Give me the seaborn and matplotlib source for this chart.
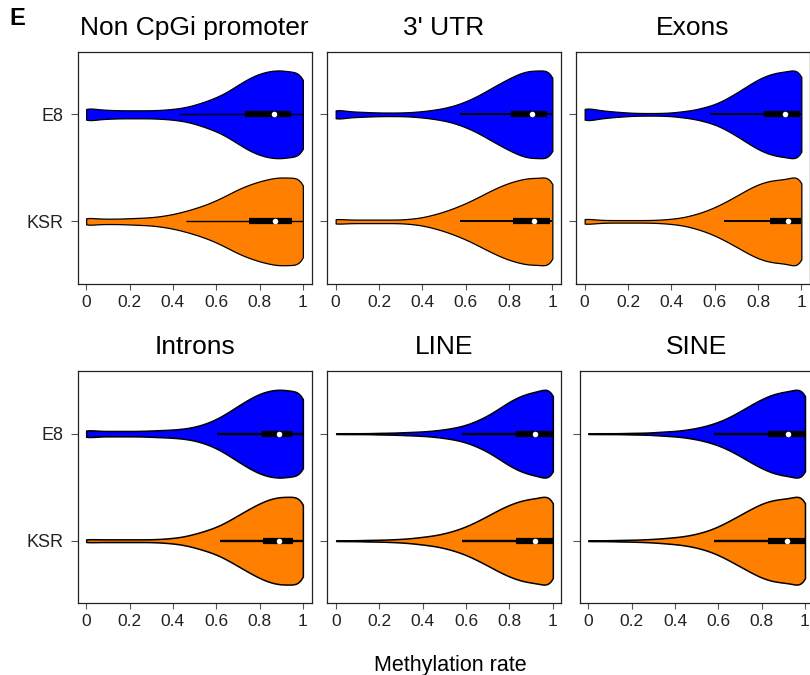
import numpy as np
import pandas as pd
import matplotlib
matplotlib.use("Agg")
from matplotlib import pyplot as plt
import seaborn as sns

regions = ["Non CpGi promoter", "3' UTR", "Exons", "Introns", "LINE", "SINE"]
groups = ["E8", "KSR"]
group_colors = ["#0000FF", "#FF7F00"]

# methylation rate bins and the relative counts
rate_bins = [0.00, 0.05, 0.10, 0.15, 0.20, 0.25, 0.30, 0.35, 0.40, 0.45, 0.50,
             0.55, 0.60, 0.65, 0.70, 0.75, 0.80, 0.85, 0.90, 0.95, 1.00]

noncpgi_e8 = [17, 11, 10, 9, 9, 9, 9, 10, 12, 15, 21, 29, 38, 50, 66, 81, 92, 98, 100, 94, 100]
noncpgi_ksr = [10, 6, 6, 6, 7, 8, 9, 12, 16, 22, 29, 37, 47, 59, 72, 82, 90, 96, 100, 96, 105]
utr_e8 = [13, 7, 6, 5, 4, 4, 4, 5, 7, 10, 14, 20, 29, 40, 54, 68, 81, 93, 100, 97, 108]
utr_ksr = [7, 4, 4, 4, 4, 4, 4, 6, 9, 15, 22, 31, 41, 53, 66, 78, 88, 95, 100, 97, 112]
exons_e8 = [18, 11, 8, 6, 4, 3, 3, 3, 4, 7, 10, 16, 23, 35, 50, 66, 82, 93, 99, 100, 115]
exons_ksr = [8, 4, 3, 3, 3, 3, 3, 4, 6, 9, 15, 23, 33, 46, 60, 75, 88, 96, 99, 100, 120]
introns_e8 = [10, 6, 6, 6, 6, 6, 7, 8, 9, 11, 15, 22, 32, 46, 62, 77, 90, 97, 100, 94, 100]
introns_ksr = [4, 3, 3, 3, 3, 3, 3, 4, 6, 9, 15, 22, 30, 42, 56, 70, 83, 93, 98, 96, 103]
line_e8 = [1, 1, 1, 1, 2, 2, 3, 4, 5, 7, 10, 14, 20, 30, 42, 58, 75, 88, 96, 100, 116]
line_ksr = [1, 1, 1, 2, 2, 3, 4, 6, 9, 12, 17, 24, 33, 45, 58, 72, 84, 93, 98, 100, 115]
sine_e8 = [1, 1, 1, 1, 2, 2, 3, 5, 6, 9, 13, 19, 27, 38, 52, 67, 81, 92, 98, 100, 116]
sine_ksr = [1, 1, 1, 2, 2, 3, 4, 6, 8, 11, 16, 23, 33, 46, 60, 74, 87, 95, 98, 100, 116]

# inner boxplot per region: whisker low, Q1, median, Q3, whisker high
e8_low = [0.43, 0.573, 0.58, 0.604, 0.579, 0.579]
e8_q1 = [0.735, 0.808, 0.826, 0.81, 0.828, 0.83]
e8_med = [0.868, 0.906, 0.923, 0.891, 0.916, 0.92]
e8_q3 = [0.943, 0.974, 0.995, 0.951, 1.0, 1.0]
e8_high = [1.0, 1.0, 1.0, 1.0, 1.0, 1.0]
ksr_low = [0.46, 0.573, 0.645, 0.619, 0.579, 0.582]
ksr_q1 = [0.75, 0.819, 0.857, 0.817, 0.828, 0.83]
ksr_med = [0.872, 0.914, 0.937, 0.891, 0.916, 0.916]
ksr_q3 = [0.95, 0.989, 1.0, 0.954, 1.0, 1.0]
ksr_high = [1.0, 1.0, 1.0, 1.0, 1.0, 1.0]

counts = {
    ("Non CpGi promoter", "E8"): noncpgi_e8, ("Non CpGi promoter", "KSR"): noncpgi_ksr,
    ("3' UTR", "E8"): utr_e8, ("3' UTR", "KSR"): utr_ksr,
    ("Exons", "E8"): exons_e8, ("Exons", "KSR"): exons_ksr,
    ("Introns", "E8"): introns_e8, ("Introns", "KSR"): introns_ksr,
    ("LINE", "E8"): line_e8, ("LINE", "KSR"): line_ksr,
    ("SINE", "E8"): sine_e8, ("SINE", "KSR"): sine_ksr,
}
frames = []
for (region, group), c in counts.items():
    r = np.repeat(rate_bins, c)
    frames.append(pd.DataFrame({"region": region, "group": group, "rate": r}))
df = pd.concat(frames, ignore_index=True)

box_stats = {
    "E8": (e8_low, e8_q1, e8_med, e8_q3, e8_high),
    "KSR": (ksr_low, ksr_q1, ksr_med, ksr_q3, ksr_high),
}


def fixed_bw(kde):
    # same kernel width (in rate units) for every violin
    return 0.035 / np.std(kde.dataset)


sns.set_style("ticks")
plt.rcParams["font.family"] = ["Liberation Sans", "DejaVu Sans"]

fig = plt.figure(figsize=(8.1, 6.75), dpi=100)
rects = [
    [0.0957, 0.5793, 0.2889, 0.3441], [0.4037, 0.5793, 0.2889, 0.3441], [0.7111, 0.5793, 0.2889, 0.3441],
    [0.0957, 0.1062, 0.2889, 0.3441], [0.4043, 0.1062, 0.2889, 0.3441], [0.7156, 0.1062, 0.2889, 0.3441],
]
whisker_lw = [1.0, 1.4, 1.4, 1.7, 1.7, 1.7]

for k, region in enumerate(regions):
    ax = fig.add_axes(rects[k])
    sub = df[df["region"] == region]
    sns.violinplot(data=sub, x="rate", y="group", hue="group", order=groups, hue_order=groups,
                   palette=group_colors, orient="h", cut=0, density_norm="width", width=0.82,
                   inner=None, linewidth=0.9 if k < 3 else 1.1, linecolor="black", saturation=1,
                   bw_method=fixed_bw, legend=False, ax=ax)
    for i, g in enumerate(groups):
        lo, q1, md, q3, hi = [s[k] for s in box_stats[g]]
        ax.plot([lo, hi], [i, i], color="black", lw=whisker_lw[k], solid_capstyle="butt", zorder=3)
        ax.plot([q1, q3], [i, i], color="black", lw=4.5, solid_capstyle="butt", zorder=4)
        ax.plot([md], [i], marker="o", color="white", ms=4, mec="none", zorder=5)

    ax.set_xlim(-0.04, 1.04)
    ax.set_ylim(1.585, -0.585)
    ax.set_xticks([0, 0.2, 0.4, 0.6, 0.8, 1.0])
    ax.set_xticklabels(["0", "0.2", "0.4", "0.6", "0.8", "1"])
    ax.set_yticks([0, 1])
    if k % 3 == 0:
        ax.set_yticklabels(groups)
    else:
        ax.set_yticklabels([])
    ax.set_xlabel("")
    ax.set_ylabel("")
    ax.set_title(region, fontsize=19, pad=12, color="black")
    for sp in ax.spines.values():
        sp.set_visible(True)
        sp.set_color("#222222")
        sp.set_linewidth(0.9)
    ax.tick_params(axis="x", direction="out", length=4.5, width=0.8, color="#555555",
                   labelsize=12.5, labelcolor="#222222", pad=3.5)
    ax.tick_params(axis="y", direction="out", length=5, width=0.8, color="#555555",
                   labelsize=13, labelcolor="#222222", pad=5)

fig.text(0.012, 0.963, "E", fontsize=17, fontweight="bold", va="baseline", color="black")
fig.text(0.5556, 0.006, "Methylation rate", fontsize=15.5, ha="center", va="baseline", color="black")

plt.savefig("out.png", dpi=100)
